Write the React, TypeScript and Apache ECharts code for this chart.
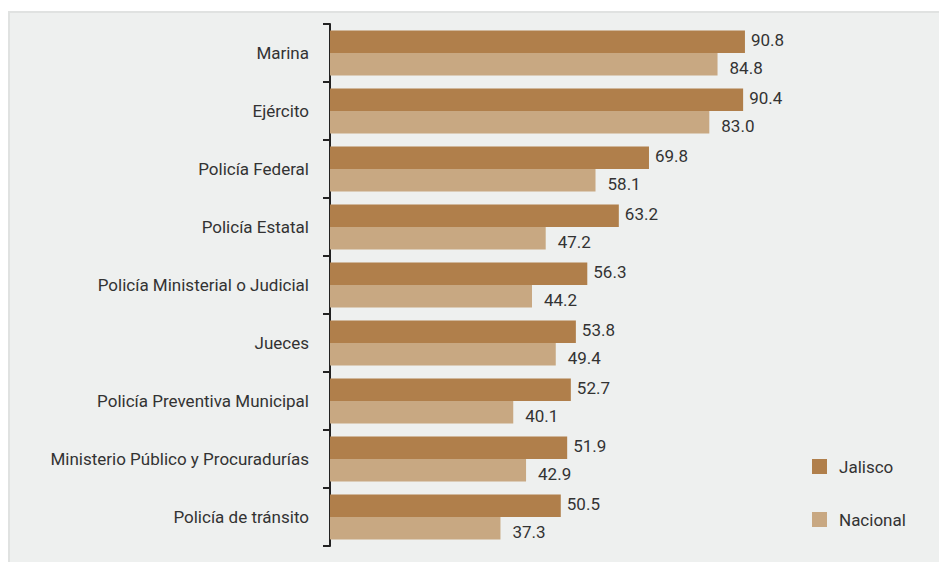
import React, { useEffect, useRef } from "react";
import * as echarts from "echarts";

const categories = [
  "Marina",
  "Ejército",
  "Policía Federal",
  "Policía Estatal",
  "Policía Ministerial o Judicial",
  "Jueces",
  "Policía Preventiva Municipal",
  "Ministerio Público y Procuradurías",
  "Policía de tránsito",
];
const jalisco = [90.8, 90.4, 69.8, 63.2, 56.3, 53.8, 52.7, 51.9, 50.5];
const nacional = [84.8, 83.0, 58.1, 47.2, 44.2, 49.4, 40.1, 42.9, 37.3];
const seriesNames = ["Jalisco", "Nacional"];

const FONT = "Roboto, sans-serif";
const FS = 17;

export default function App() {
  const ref = useRef<HTMLDivElement>(null);
  useEffect(() => {
    if (!ref.current) return;
    const chart = echarts.init(ref.current, undefined, { renderer: "svg" });
    chart.setOption({
      animation: false,
      backgroundColor: "#ffffff",
      graphic: [
        {
          type: "rect",
          silent: true,
          z: -10,
          shape: { x: 9, y: 12, width: 940, height: 560 },
          style: { fill: "#eef0ef", stroke: "#e0e2e1", lineWidth: 2 },
        },
      ],
      grid: { left: 330, right: 152, top: 24, bottom: 16, containLabel: false },
      xAxis: { type: "value", min: 0, max: 100, show: false },
      yAxis: {
        type: "category",
        data: categories,
        inverse: true,
        axisLine: { show: true, lineStyle: { color: "#222", width: 2 } },
        axisTick: { show: true, length: 7, lineStyle: { color: "#222", width: 2 } },
        axisLabel: {
          color: "#333",
          fontSize: FS,
          fontFamily: FONT,
          margin: 21,
          padding: [0, 0, 6, 0],
        },
        splitLine: { show: false },
      },
      legend: {
        orient: "vertical",
        left: 812,
        top: 458,
        padding: 0,
        itemWidth: 15,
        itemHeight: 15,
        itemGap: 36,
        icon: "rect",
        data: seriesNames,
        textStyle: { color: "#333", fontSize: FS, fontFamily: FONT, padding: [0, 0, 0, 7] },
      },
      series: [
        {
          name: seriesNames[0],
          type: "bar",
          data: jalisco,
          barWidth: 22.5,
          barGap: "0%",
          itemStyle: { color: "#b07f4b" },
          label: {
            show: true,
            position: "right",
            distance: 6,
            offset: [0, -2],
            color: "#333",
            fontSize: FS,
            fontFamily: FONT,
            formatter: (p: any) => p.value.toFixed(1),
          },
        },
        {
          name: seriesNames[1],
          type: "bar",
          data: nacional,
          barWidth: 22.5,
          barGap: "0%",
          itemStyle: { color: "#c8a882" },
          label: {
            show: true,
            position: "right",
            distance: 12,
            offset: [0, 4],
            color: "#333",
            fontSize: FS,
            fontFamily: FONT,
            formatter: (p: any) => p.value.toFixed(1),
          },
        },
      ],
    });
    return () => chart.dispose();
  }, []);
  return (
    <div style={{ position: "fixed", left: 0, top: 0, width: 939, height: 562, background: "#fff" }}>
      <div ref={ref} style={{ width: 939, height: 562 }} />
    </div>
  );
}
